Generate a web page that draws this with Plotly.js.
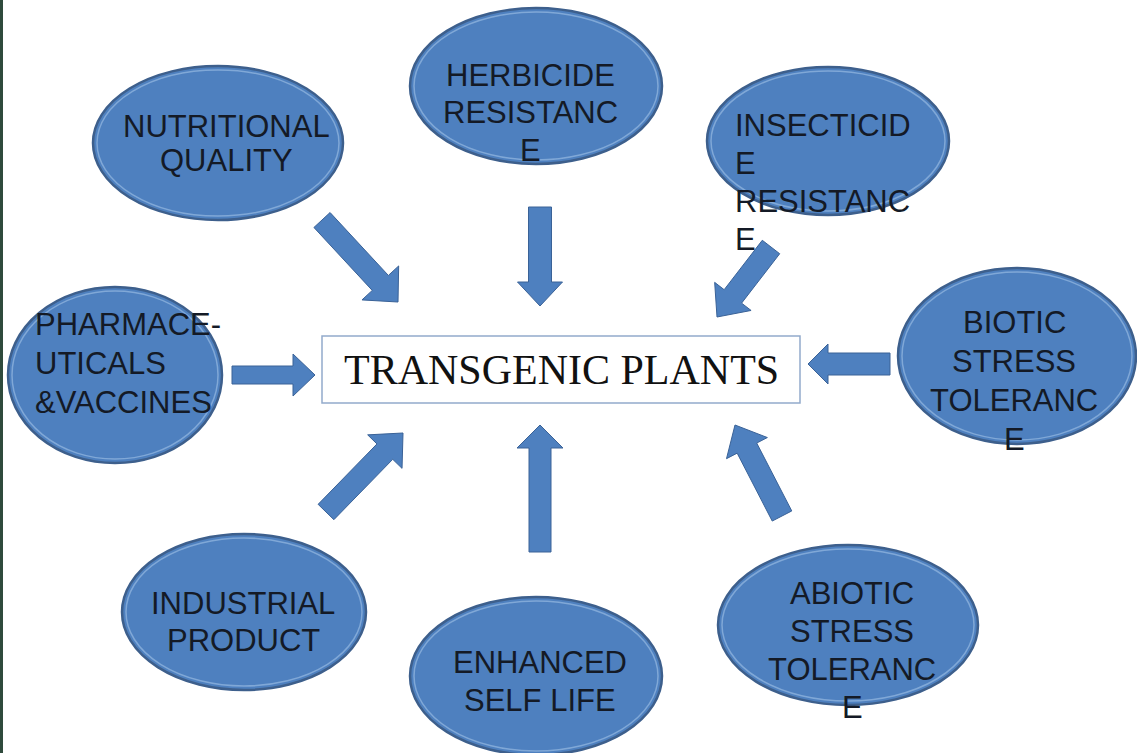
<!DOCTYPE html>
<html>
<head>
<meta charset="utf-8">
<script src="https://cdn.plot.ly/plotly-3.0.1.min.js"></script>
<style>html,body{margin:0;padding:0;background:#fff;}#chart{width:1137px;height:753px;}</style>
</head>
<body>
<div id="chart"></div>
<script>
// ---- content (text) ----
const centerLabel = "TRANSGENIC PLANTS";
const nodeNames = ["NUTRITIONAL QUALITY","HERBICIDE RESISTANCE","INSECTICIDE RESISTANCE","BIOTIC STRESS TOLERANCE","ABIOTIC STRESS TOLERANCE","ENHANCED SELF LIFE","INDUSTRIAL PRODUCT","PHARMACEUTICALS & VACCINES"];
const nodeLines = [
  ["NUTRITIONAL","QUALITY"],
  ["HERBICIDE","RESISTANC","E"],
  ["INSECTICID","E","RESISTANC","E"],
  ["BIOTIC","STRESS","TOLERANC","E"],
  ["ABIOTIC","STRESS","TOLERANC","E"],
  ["ENHANCED","SELF LIFE"],
  ["INDUSTRIAL","PRODUCT"],
  ["PHARMACE-","UTICALS","&VACCINES"]
];

// ---- layout (positions / sizes in plot units) ----
const ellCX = [218, 536, 828, 1017, 848, 536, 244, 115];
const ellCY = [143, 86, 141, 356, 625, 676, 612, 375];
const ellRX = [125, 126, 121, 119, 130, 126, 122, 107];
const ellRY = [77, 78, 74, 88, 80, 79, 78, 88];
const textX = [226, 530, 733, 1014, 852, 540, 243, 33];
const textY0 = [126, 75, 125, 322, 593, 662, 603, 324];
const textDY = [34, 37.5, 38, 39, 38, 38, 37, 39];
const textAnchor = ["center","center","left","center","center","center","center","left"];
const arrowTailX = [322, 540, 771, 890, 232, 326, 540, 782];
const arrowTailY = [220, 207, 247, 364, 375, 512, 552, 516];
const arrowTipX  = [398, 540, 717, 808, 315, 403, 540, 735];
const arrowTipY  = [302, 306, 317, 364, 375, 433, 425, 425];
const arrowShaftW = [22, 23, 22, 22, 18, 22, 22, 22];
const arrowHeadW  = [50, 45, 46, 40, 42, 48, 46, 46];
const arrowHeadL  = [26, 24, 26, 20, 22, 26, 23, 26];
const boxX = [322, 800], boxY = [336, 403];

// ---- styles ----
const FILL = "#4e80bf", EDGE = "#3d5f8c", TXT = "#141a26";

function arrowPath(tx, ty, px, py, w, hw, hl) {
  const L = Math.hypot(px - tx, py - ty);
  const dx = (px - tx) / L, dy = (py - ty) / L;
  const nx = -dy, ny = dx;
  const bx = px - dx * hl, by = py - dy * hl;
  const pts = [
    [tx + nx * w / 2, ty + ny * w / 2],
    [bx + nx * w / 2, by + ny * w / 2],
    [bx + nx * hw / 2, by + ny * hw / 2],
    [px, py],
    [bx - nx * hw / 2, by - ny * hw / 2],
    [bx - nx * w / 2, by - ny * w / 2],
    [tx - nx * w / 2, ty - ny * w / 2]
  ];
  return "M " + pts.map(p => p[0].toFixed(2) + "," + p[1].toFixed(2)).join(" L ") + " Z";
}

const shapes = [];
// left edge strip
shapes.push({type: "rect", xref: "x", yref: "y", x0: 0, x1: 3, y0: 0, y1: 753, fillcolor: "#2f4a3c", line: {width: 0}, layer: "below"});

for (let i = 0; i < nodeNames.length; i++) {
  shapes.push({type: "circle", xref: "x", yref: "y",
    x0: ellCX[i] - ellRX[i], x1: ellCX[i] + ellRX[i],
    y0: ellCY[i] - ellRY[i], y1: ellCY[i] + ellRY[i],
    fillcolor: FILL, line: {color: EDGE, width: 2.5}, layer: "above"});
  shapes.push({type: "circle", xref: "x", yref: "y",
    x0: ellCX[i] - ellRX[i] + 4, x1: ellCX[i] + ellRX[i] - 4,
    y0: ellCY[i] - ellRY[i] + 4, y1: ellCY[i] + ellRY[i] - 4,
    fillcolor: "rgba(0,0,0,0)", line: {color: "rgba(170,200,235,0.55)", width: 1.5}, layer: "above"});
}
for (let i = 0; i < arrowTailX.length; i++) {
  shapes.push({type: "path", xref: "x", yref: "y",
    path: arrowPath(arrowTailX[i], arrowTailY[i], arrowTipX[i], arrowTipY[i], arrowShaftW[i], arrowHeadW[i], arrowHeadL[i]),
    fillcolor: FILL, line: {color: "#3a6297", width: 1}, layer: "above"});
}
shapes.push({type: "rect", xref: "x", yref: "y", x0: boxX[0], x1: boxX[1], y0: boxY[0], y1: boxY[1],
  fillcolor: "#ffffff", line: {color: "#93abcb", width: 1.5}, layer: "above"});

const annotations = [];
annotations.push({x: (boxX[0] + boxX[1]) / 2, y: (boxY[0] + boxY[1]) / 2, xref: "x", yref: "y",
  text: centerLabel, showarrow: false, xanchor: "center", yanchor: "middle",
  font: {family: "Liberation Serif, Times New Roman, serif", size: 42, color: "#111111"}});
for (let i = 0; i < nodeLines.length; i++) {
  nodeLines[i].forEach((ln, j) => {
    annotations.push({x: textX[i], y: textY0[i] + j * textDY[i], xref: "x", yref: "y",
      text: ln, showarrow: false, xanchor: textAnchor[i], yanchor: "middle", align: textAnchor[i],
      font: {family: "Liberation Sans, Arial, sans-serif", size: 31, color: TXT}});
  });
}

const layout = {
  width: 1137, height: 753,
  margin: {l: 0, r: 0, t: 0, b: 0},
  paper_bgcolor: "#ffffff", plot_bgcolor: "#ffffff",
  showlegend: false,
  xaxis: {range: [0, 1137], visible: false, fixedrange: true},
  yaxis: {range: [753, 0], visible: false, fixedrange: true},
  shapes: shapes,
  annotations: annotations
};

Plotly.newPlot("chart", [{x: ellCX, y: ellCY, type: "scatter", mode: "markers", marker: {opacity: 0}, hoverinfo: "text", text: nodeNames}], layout, {displayModeBar: false, staticPlot: true});
</script>
</body>
</html>
